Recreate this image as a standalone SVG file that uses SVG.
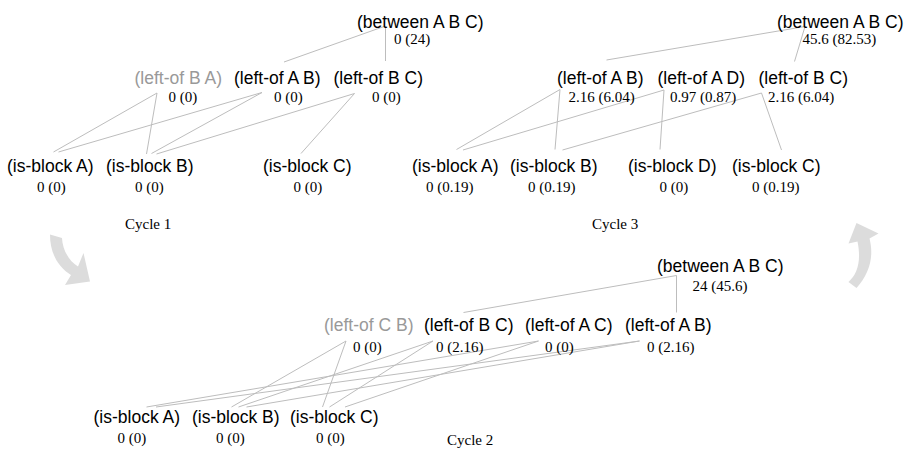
<svg xmlns="http://www.w3.org/2000/svg" width="909" height="449" viewBox="0 0 909 449">
  <style>
    .t { font-family: "Liberation Sans", Arial, sans-serif; font-size: 17.5px; fill: #000; }
    .dim { fill: #999; }
    .v { font-family: "Liberation Serif", "Times New Roman", serif; font-size: 15px; fill: #000; }
    .cap { font-family: "Liberation Serif", "Times New Roman", serif; font-size: 15px; fill: #000; }
    .edges line { stroke: #bdbdbd; stroke-width: 1; }
    .cycle-arrow { fill: #dcdcdc; }
  </style>
  <rect width="909" height="449" fill="#fff"/>

  <!-- connectors -->
  <g id="connectors" class="edges">
    <!-- cycle 1 -->
    <line x1="384" y1="26.5" x2="284" y2="62"/>
    <line x1="385.5" y1="27" x2="385.5" y2="61"/>
    <line x1="157" y1="93" x2="53.5" y2="152"/>
    <line x1="157" y1="93" x2="146.5" y2="154"/>
    <line x1="262" y1="92.5" x2="58.5" y2="152"/>
    <line x1="262" y1="92.5" x2="151.5" y2="153.5"/>
    <line x1="354.5" y1="93.5" x2="156.5" y2="154"/>
    <line x1="354.5" y1="93.5" x2="301" y2="153.5"/>
    <!-- cycle 3 -->
    <line x1="805" y1="26.5" x2="606.5" y2="60"/>
    <line x1="805" y1="26.5" x2="794.5" y2="61.5"/>
    <line x1="560" y1="89.5" x2="456.5" y2="149.5"/>
    <line x1="560" y1="89.5" x2="555" y2="149.5"/>
    <line x1="664" y1="90" x2="463" y2="150"/>
    <line x1="664" y1="90" x2="660" y2="149.5"/>
    <line x1="761.5" y1="93" x2="562.5" y2="150"/>
    <line x1="761.5" y1="93" x2="781.5" y2="150"/>
    <!-- cycle 2 -->
    <line x1="676.5" y1="275.5" x2="463.5" y2="312.5"/>
    <line x1="676.5" y1="275.5" x2="676.5" y2="312.5"/>
    <line x1="346" y1="341" x2="231.5" y2="407"/>
    <line x1="346" y1="341" x2="322.5" y2="407"/>
    <line x1="433" y1="341" x2="238.5" y2="407"/>
    <line x1="433" y1="341" x2="329.5" y2="407"/>
    <line x1="538.5" y1="341" x2="146.5" y2="407"/>
    <line x1="538.5" y1="341" x2="345" y2="407"/>
    <line x1="639.5" y1="341" x2="156" y2="407"/>
    <line x1="639.5" y1="341" x2="246.5" y2="407"/>
  </g>

  <!-- cycle 1 nodes -->
  <g id="c1-between-ABC"><text class="t" x="357" y="27.5">(between A B C)</text><text class="v" x="394" y="43.5">0 (24)</text></g>
  <g id="c1-left-of-BA"><text class="t dim" x="134.5" y="83.5">(left-of B A)</text><text class="v" x="168.5" y="101.5">0 (0)</text></g>
  <g id="c1-left-of-AB"><text class="t" x="234" y="83.5">(left-of A B)</text><text class="v" x="274" y="101.5">0 (0)</text></g>
  <g id="c1-left-of-BC"><text class="t" x="333.5" y="83.5">(left-of B C)</text><text class="v" x="372" y="101.5">0 (0)</text></g>
  <g id="c1-is-block-A"><text class="t" x="7" y="171.5">(is-block A)</text><text class="v" x="37" y="191.5">0 (0)</text></g>
  <g id="c1-is-block-B"><text class="t" x="106" y="171.5">(is-block B)</text><text class="v" x="135" y="191.5">0 (0)</text></g>
  <g id="c1-is-block-C"><text class="t" x="263" y="171.5">(is-block C)</text><text class="v" x="293.5" y="191.5">0 (0)</text></g>
  <text class="cap" x="125" y="229">Cycle 1</text>

  <!-- cycle 3 nodes -->
  <g id="c3-between-ABC"><text class="t" x="777" y="27.5">(between A B C)</text><text class="v" x="802.5" y="43.5">45.6 (82.53)</text></g>
  <g id="c3-left-of-AB"><text class="t" x="557" y="83.5">(left-of A B)</text><text class="v" x="568.5" y="101.5">2.16 (6.04)</text></g>
  <g id="c3-left-of-AD"><text class="t" x="657.5" y="83.5">(left-of A D)</text><text class="v" x="670" y="101.5">0.97 (0.87)</text></g>
  <g id="c3-left-of-BC"><text class="t" x="758.5" y="83.5">(left-of B C)</text><text class="v" x="768" y="101.5">2.16 (6.04)</text></g>
  <g id="c3-is-block-A"><text class="t" x="412" y="171.5">(is-block A)</text><text class="v" x="426" y="191.5">0 (0.19)</text></g>
  <g id="c3-is-block-B"><text class="t" x="510" y="171.5">(is-block B)</text><text class="v" x="528" y="191.5">0 (0.19)</text></g>
  <g id="c3-is-block-D"><text class="t" x="628" y="171.5">(is-block D)</text><text class="v" x="659.5" y="191.5">0 (0)</text></g>
  <g id="c3-is-block-C"><text class="t" x="732" y="171.5">(is-block C)</text><text class="v" x="752" y="191.5">0 (0.19)</text></g>
  <text class="cap" x="592" y="229">Cycle 3</text>

  <!-- cycle 2 nodes -->
  <g id="c2-between-ABC"><text class="t" x="657" y="271.5">(between A B C)</text><text class="v" x="692.5" y="290.5">24 (45.6)</text></g>
  <g id="c2-left-of-CB"><text class="t dim" x="324" y="330.5">(left-of C B)</text><text class="v" x="353" y="351.5">0 (0)</text></g>
  <g id="c2-left-of-BC"><text class="t" x="424" y="330.5">(left-of B C)</text><text class="v" x="436" y="351.5">0 (2.16)</text></g>
  <g id="c2-left-of-AC"><text class="t" x="525" y="330.5">(left-of A C)</text><text class="v" x="545" y="351.5">0 (0)</text></g>
  <g id="c2-left-of-AB"><text class="t" x="625" y="330.5">(left-of A B)</text><text class="v" x="647" y="351.5">0 (2.16)</text></g>
  <g id="c2-is-block-A"><text class="t" x="93.5" y="423">(is-block A)</text><text class="v" x="117.5" y="442.5">0 (0)</text></g>
  <g id="c2-is-block-B"><text class="t" x="192" y="423">(is-block B)</text><text class="v" x="216" y="442.5">0 (0)</text></g>
  <g id="c2-is-block-C"><text class="t" x="290" y="423">(is-block C)</text><text class="v" x="316" y="442.5">0 (0)</text></g>
  <text class="cap" x="447" y="445">Cycle 2</text>

  <!-- curved cycle arrows -->
  <path class="cycle-arrow" d="M50,234.5 L62,238 C62.5,250 69,261 78,266.5 L83.5,253 L90,281.5 L65,285 L71,275 C58,267 50,253 50,234.5 Z"/>
  <path class="cycle-arrow" d="M848.5,282 C857.5,274 861.5,261 857.5,241.5 L848.5,243.5 L856.5,223 L878.5,233.5 L869.5,238.5 C874,256 870,273 856.5,288 Z"/>
</svg>
